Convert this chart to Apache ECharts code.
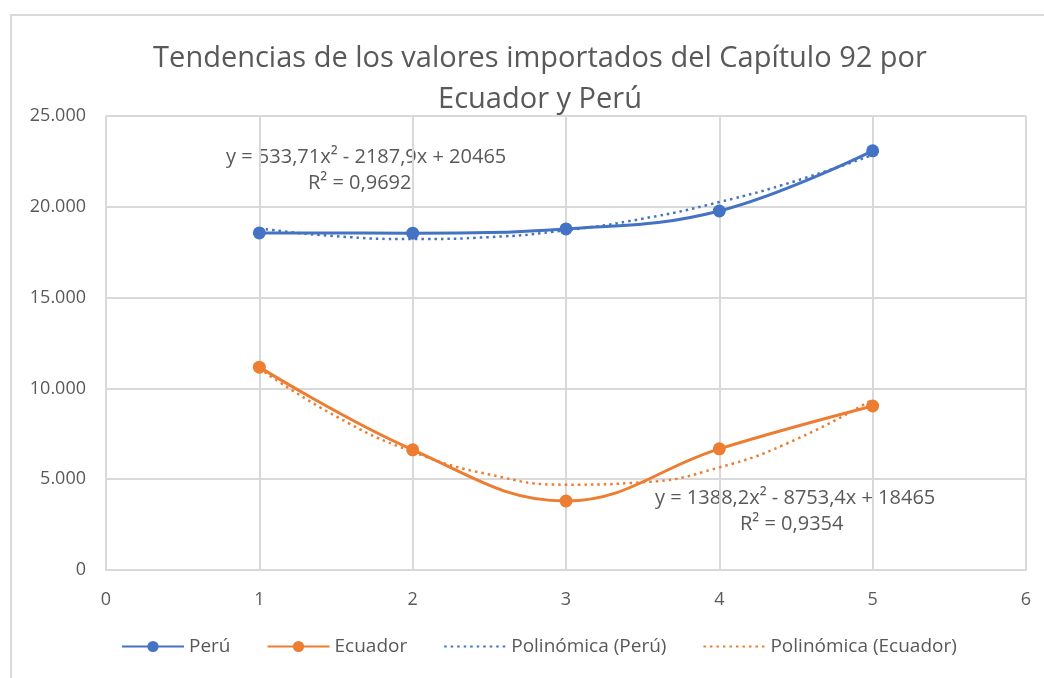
<!DOCTYPE html>
<html>
<head>
<meta charset="utf-8">
<title>Tendencias Capítulo 92</title>
<script src="https://cdn.jsdelivr.net/npm/echarts@6/dist/echarts.min.js"></script>
<style>
  html, body { margin: 0; padding: 0; background: #fff; }
  #chart { width: 1044px; height: 678px; }
  .frame { position: absolute; left: 10px; top: 14px; right: -4px; bottom: -4px; border: 2px solid #d9d9d9; pointer-events: none; }
</style>
</head>
<body>
<div id="chart"></div>
<div class="frame"></div>
<script>
// years (as index) and imported values
const years = [1, 2, 3, 4, 5]
const peru = [18560, 18550, 18780, 19770, 23080]
const ecuador = [11170, 6620, 3800, 6670, 9030]

// trendlines
const trendX = [1, 1.5, 2, 2.5, 3, 3.5, 4, 4.5, 5]
const peruTrend = [18810, 18380, 18225, 18330, 18710, 19345, 20260, 21430, 22860]
const ecuadorTrend = [11100, 8460, 6510, 5260, 4700, 4830, 5650, 7190, 9400]

const peruEq = 'y = 533,71x² - 2187,9x + 20465'
const peruR2 = 'R² = 0,9692'
const ecuadorEq = 'y = 1388,2x² - 8753,4x + 18465'
const ecuadorR2 = 'R² = 0,9354'

const BLUE = '#4472C4'
const ORANGE = '#ED7D31'
const TEXT = '#595959'
const FONT = 'Open Sans'

const pairs = (xs, ys) => xs.map((x, i) => [x, ys[i]])

const chart = echarts.init(document.getElementById('chart'))

const option = {
  animation: false,
  textStyle: { fontFamily: FONT },
  title: {
    text: 'Tendencias de los valores importados del Capítulo 92 por\nEcuador y Perú',
    left: 535,
    top: 33,
    textAlign: 'center',
    textStyle: {
      fontFamily: FONT,
      fontWeight: 'normal',
      fontSize: 29,
      lineHeight: 41,
      color: TEXT
    }
  },
  grid: {
    left: 106,
    right: 18,
    top: 116,
    bottom: 108
  },
  legend: {
    bottom: 17,
    left: 116,
    itemWidth: 62,
    itemHeight: 14,
    itemGap: 36,
    textStyle: { fontFamily: FONT, fontSize: 19, color: TEXT },
    data: [
      'Perú',
      'Ecuador',
      { name: 'Polinómica (Perú)', itemStyle: { opacity: 0 } },
      { name: 'Polinómica (Ecuador)', itemStyle: { opacity: 0 } }
    ]
  },
  xAxis: {
    type: 'value',
    min: 0,
    max: 6,
    interval: 1,
    axisLine: { show: true, lineStyle: { color: '#d9d9d9', width: 2 } },
    axisTick: { show: false },
    splitLine: { show: true, lineStyle: { color: '#d9d9d9', width: 2 } },
    axisLabel: { color: TEXT, fontSize: 18, margin: 21 }
  },
  yAxis: {
    type: 'value',
    min: 0,
    max: 25000,
    interval: 5000,
    axisLine: { show: false },
    axisTick: { show: false },
    splitLine: { lineStyle: { color: '#d9d9d9', width: 2 } },
    axisLabel: {
      color: TEXT,
      fontSize: 18,
      margin: 20,
      formatter: v => v === 0 ? '0' : (v / 1000).toFixed(3)
    }
  },
  series: [
    {
      name: 'Perú',
      type: 'line',
      smooth: 0.4,
      data: pairs(years, peru),
      symbol: 'circle',
      symbolSize: 13,
      itemStyle: { color: BLUE },
      lineStyle: { color: BLUE, width: 3 },
      z: 3
    },
    {
      name: 'Ecuador',
      type: 'line',
      smooth: 0.4,
      data: pairs(years, ecuador),
      symbol: 'circle',
      symbolSize: 13,
      itemStyle: { color: ORANGE },
      lineStyle: { color: ORANGE, width: 3 },
      z: 3
    },
    {
      name: 'Polinómica (Perú)',
      type: 'line',
      smooth: true,
      data: pairs(trendX, peruTrend),
      symbol: 'none',
      itemStyle: { color: BLUE },
      lineStyle: { color: BLUE, width: 2.5, type: [2.5, 4] },
      z: 2
    },
    {
      name: 'Polinómica (Ecuador)',
      type: 'line',
      smooth: true,
      data: pairs(trendX, ecuadorTrend),
      symbol: 'none',
      itemStyle: { color: ORANGE },
      lineStyle: { color: ORANGE, width: 2.5, type: [2.5, 4] },
      z: 2
    }
  ],
  graphic: [
    { type: 'text', left: 226, top: 147, style: { text: peruEq, font: '20px "Open Sans"', fill: TEXT } },
    { type: 'text', left: 308, top: 173, style: { text: peruR2, font: '20px "Open Sans"', fill: TEXT } },
    { type: 'text', left: 655, top: 488, style: { text: ecuadorEq, font: '20px "Open Sans"', fill: TEXT } },
    { type: 'text', left: 740, top: 514, style: { text: ecuadorR2, font: '20px "Open Sans"', fill: TEXT } }
  ]
}

chart.setOption(option)
</script>
</body>
</html>
